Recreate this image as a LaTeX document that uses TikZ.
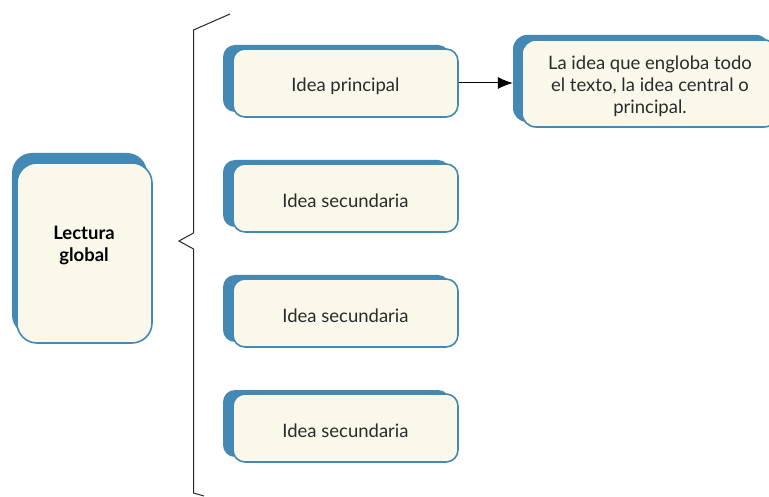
\documentclass[tikz,border=0pt]{standalone}
\usepackage{fontspec}
\setmainfont{Lato}
\usetikzlibrary{arrows.meta}
\definecolor{bblue}{HTML}{4489B4}
\definecolor{cream}{HTML}{FAF8EA}
\definecolor{txt}{HTML}{2B2B2B}
\tikzset{
  back/.style={fill=bblue, draw=none, rounded corners=#1, inner sep=0pt},
  front/.style={fill=cream, draw=bblue, line width=1.6pt, rounded corners=#1, inner sep=0pt},
  lbl/.style={text=txt, font=\fontsize{18.5}{22}\selectfont, align=center, inner sep=0pt},
  brace/.style={draw=black!85, line width=1pt}
}
\begin{document}
\begin{tikzpicture}[x=1pt,y=-1pt]
\useasboundingbox (0,0) rectangle (769,497);
\clip (0,0) rectangle (769,497);
% Lectura global
\node[back=20pt, minimum width=135pt, minimum height=182pt] (lgb) at (79.5,244) {};
\node[front=20pt, minimum width=135pt, minimum height=180pt] (lg) at (84.5,253) {};
\node[lbl, font=\fontsize{18.5}{22}\selectfont\bfseries, text=black] (lgt) at (84,245) {Lectura\\global};
% idea boxes
\foreach \n/\y/\t in {ip/83/Idea principal, s1/198/Idea secundaria, s2/313/Idea secundaria, s3/428/Idea secundaria}{
  \node[back=12pt, minimum width=227pt, minimum height=67pt] (\n b) at (336.5,\y-4.5) {};
  \node[front=12pt, minimum width=225pt, minimum height=68pt] (\n) at (345.5,\y) {};
  \node[lbl] (\n t) at (345.5,\y+3) {\t};
}
% definition box
\node[back=14pt, minimum width=257pt, minimum height=87pt] (defb) at (641.5,78.5) {};
\node[front=14pt, minimum width=256pt, minimum height=87pt] (def) at (650,83.5) {};
\node[lbl] (deft) at (650,86) {La idea que engloba todo\\el texto, la idea central o\\principal.};
% arrow
\draw[line width=1pt, -{Latex[length=15pt,width=12pt]}] (ip.east) -- (defb.west |- ip.east);
% brace
\coordinate (b1) at (230,14);
\coordinate (b2) at (193.5,30);
\coordinate (b3) at (193.5,233);
\coordinate (b4) at (179,241);
\coordinate (b5) at (193.5,249);
\coordinate (b6) at (193.5,493);
\coordinate (b7) at (204,496);
\draw[brace] (b1) -- (b2) -- (b3) -- (b4) -- (b5) -- (b6) -- (b7);
\end{tikzpicture}
\end{document}
